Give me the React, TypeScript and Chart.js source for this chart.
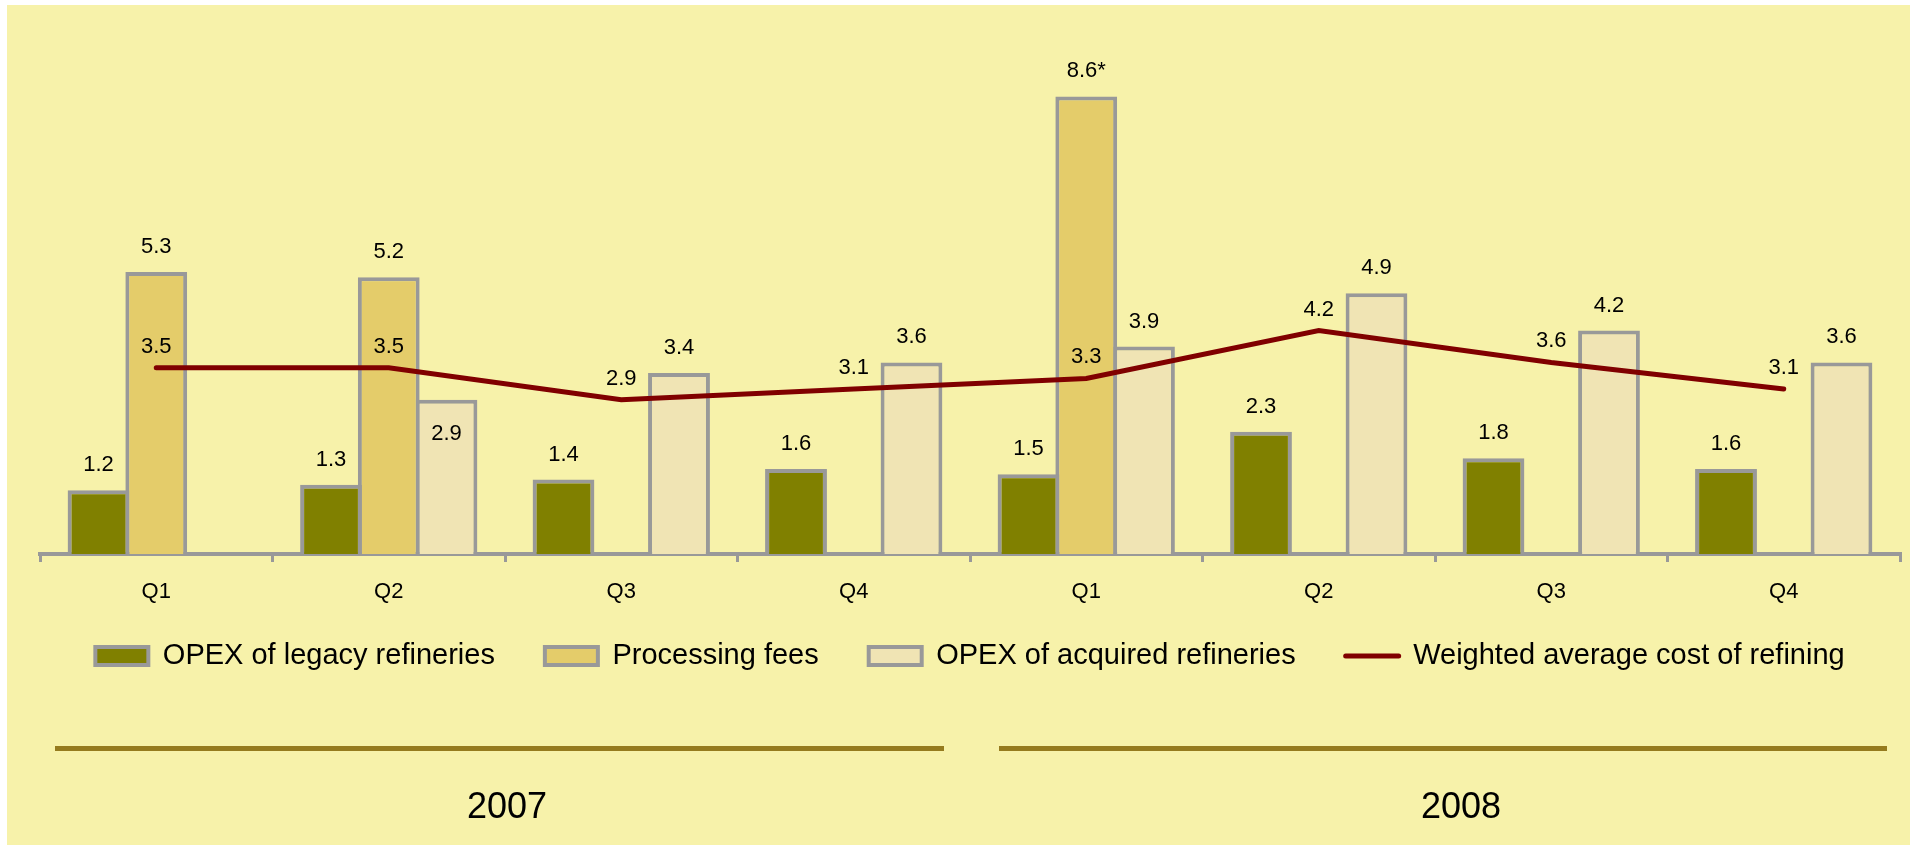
import React, { useEffect, useRef } from 'react';
import { Chart, registerables } from 'chart.js';

Chart.register(...registerables);

const FONT = "'Liberation Sans', Arial, sans-serif";

const quarters = ['Q1', 'Q2', 'Q3', 'Q4', 'Q1', 'Q2', 'Q3', 'Q4'];
const years = ['2007', '2008'];
const legacyOpex = [1.2, 1.3, 1.4, 1.6, 1.5, 2.3, 1.8, 1.6];
const processingFees = [5.3, 5.2, null, null, 8.6, null, null, null];
const processingNotes = ['', '', '', '', '*', '', '', ''];
const acquiredOpex = [null, 2.9, 3.4, 3.6, 3.9, 4.9, 4.2, 3.6];
const weightedCost = [3.5, 3.5, 2.9, 3.1, 3.3, 4.2, 3.6, 3.1];
const seriesNames = [
  'OPEX of legacy refineries',
  'Processing fees',
  'OPEX of acquired refineries',
  'Weighted average cost of refining',
];

const COLORS = {
  bg: '#F7F2AA',
  legacy: '#808000',
  processing: '#E4CC6A',
  acquired: '#F0E4B4',
  border: '#999999',
  line: '#800000',
  yearLine: '#957B1E',
};

const yearLineInsets = [
  [15, 26],
  [29, 13],
];
const yearLabelShift = [2, 26];
const LEGEND_SHIFT = 12.5;

const annotatePlugin = {
  id: 'annotate',
  afterLayout(chart: any) {
    if (chart.legend) {
      chart.legend.top -= LEGEND_SHIFT;
      chart.legend.bottom -= LEGEND_SHIFT;
    }
  },
  afterDatasetsDraw(chart: any) {
    const ctx = chart.ctx;
    ctx.save();
    ctx.fillStyle = '#000';
    ctx.font = `22px ${FONT}`;
    ctx.textAlign = 'center';
    ctx.textBaseline = 'alphabetic';
    chart.data.datasets.forEach((ds: any, di: number) => {
      const meta = chart.getDatasetMeta(di);
      meta.data.forEach((el: any, i: number) => {
        const v = ds.data[i];
        if (v == null) return;
        let text = v.toFixed(1);
        if (di === 1) text += processingNotes[i];
        let y: number;
        if (ds.type === 'line') y = el.y - 15;
        else if (di === 2 && v < weightedCost[i]) y = el.y + 40;
        else y = el.y - 19;
        ctx.fillText(text, el.x, y);
      });
    });
    ctx.restore();
  },
  afterDraw(chart: any) {
    const ctx = chart.ctx;
    const xs = chart.scales.x;
    const half = (xs.getPixelForValue(1) - xs.getPixelForValue(0)) / 2;
    const base = chart.chartArea.bottom;
    ctx.save();
    years.forEach((yr, k) => {
      const start = xs.getPixelForValue(k * 4) - half;
      const end = xs.getPixelForValue(k * 4 + 3) + half;
      const x0 = start + yearLineInsets[k][0];
      const x1 = end - yearLineInsets[k][1];
      ctx.fillStyle = COLORS.yearLine;
      ctx.fillRect(x0, base + 192, x1 - x0, 5);
      ctx.fillStyle = '#000';
      ctx.font = `36px ${FONT}`;
      ctx.textAlign = 'center';
      ctx.textBaseline = 'alphabetic';
      ctx.fillText(yr, (start + end) / 2 + yearLabelShift[k], base + 264);
    });
    ctx.restore();
  },
};

export default function App() {
  const canvasRef = useRef<HTMLCanvasElement | null>(null);

  useEffect(() => {
    if (!canvasRef.current) return;
    const barCommon = {
      type: 'bar' as const,
      borderColor: COLORS.border,
      borderWidth: 4,
      categoryPercentage: 0.745,
      barPercentage: 1.07,
      order: 1,
    };
    const chart = new Chart(canvasRef.current, {
      type: 'bar',
      data: {
        labels: quarters,
        datasets: [
          { ...barCommon, label: seriesNames[0], data: legacyOpex, backgroundColor: COLORS.legacy },
          { ...barCommon, label: seriesNames[1], data: processingFees, backgroundColor: COLORS.processing },
          { ...barCommon, label: seriesNames[2], data: acquiredOpex, backgroundColor: COLORS.acquired },
          {
            type: 'line' as const,
            label: seriesNames[3],
            data: weightedCost,
            borderColor: COLORS.line,
            backgroundColor: COLORS.line,
            borderWidth: 5,
            borderCapStyle: 'round',
            pointRadius: 0,
            tension: 0,
            fill: false,
            order: 0,
          } as any,
        ],
      },
      options: {
        animation: false,
        responsive: true,
        maintainAspectRatio: false,
        events: [],
        layout: { padding: { left: 33, right: 10, top: 17, bottom: 152 } },
        scales: {
          y: { display: false, min: 0, max: 10 },
          x: {
            display: true,
            offset: true,
            grid: {
              display: true,
              drawOnChartArea: false,
              drawTicks: true,
              tickLength: 8,
              color: COLORS.border,
              lineWidth: 3,
              offset: true,
            },
            border: { display: true, color: COLORS.border, width: 4 },
            ticks: {
              color: '#000',
              font: { size: 22, family: FONT },
              padding: 17,
              maxRotation: 0,
              autoSkip: false,
            },
            afterFit: (s: any) => {
              s.height = 50;
            },
          },
        },
        plugins: {
          tooltip: { enabled: false },
          legend: {
            display: true,
            position: 'bottom',
            labels: {
              usePointStyle: true,
              pointStyleWidth: 53,
              boxHeight: 18,
              padding: 50,
              color: '#000',
              font: { size: 29, family: FONT },
              generateLabels: (c: any) =>
                c.data.datasets.map((ds: any, i: number) => ({
                  text: ds.label,
                  fillStyle: ds.backgroundColor,
                  strokeStyle: ds.borderColor,
                  lineWidth: ds.type === 'line' ? 5 : 4,
                  pointStyle: ds.type === 'line' ? 'line' : 'rect',
                  lineCap: ds.type === 'line' ? 'round' : 'butt',
                  hidden: false,
                  datasetIndex: i,
                  fontColor: '#000',
                })),
            },
          },
        },
      },
      plugins: [annotatePlugin],
    } as any);
    return () => chart.destroy();
  }, []);

  return (
    <div
      style={{
        position: 'absolute',
        left: 7,
        top: 5,
        width: 1903,
        height: 840,
        background: COLORS.bg,
      }}
    >
      <canvas ref={canvasRef} />
    </div>
  );
}
